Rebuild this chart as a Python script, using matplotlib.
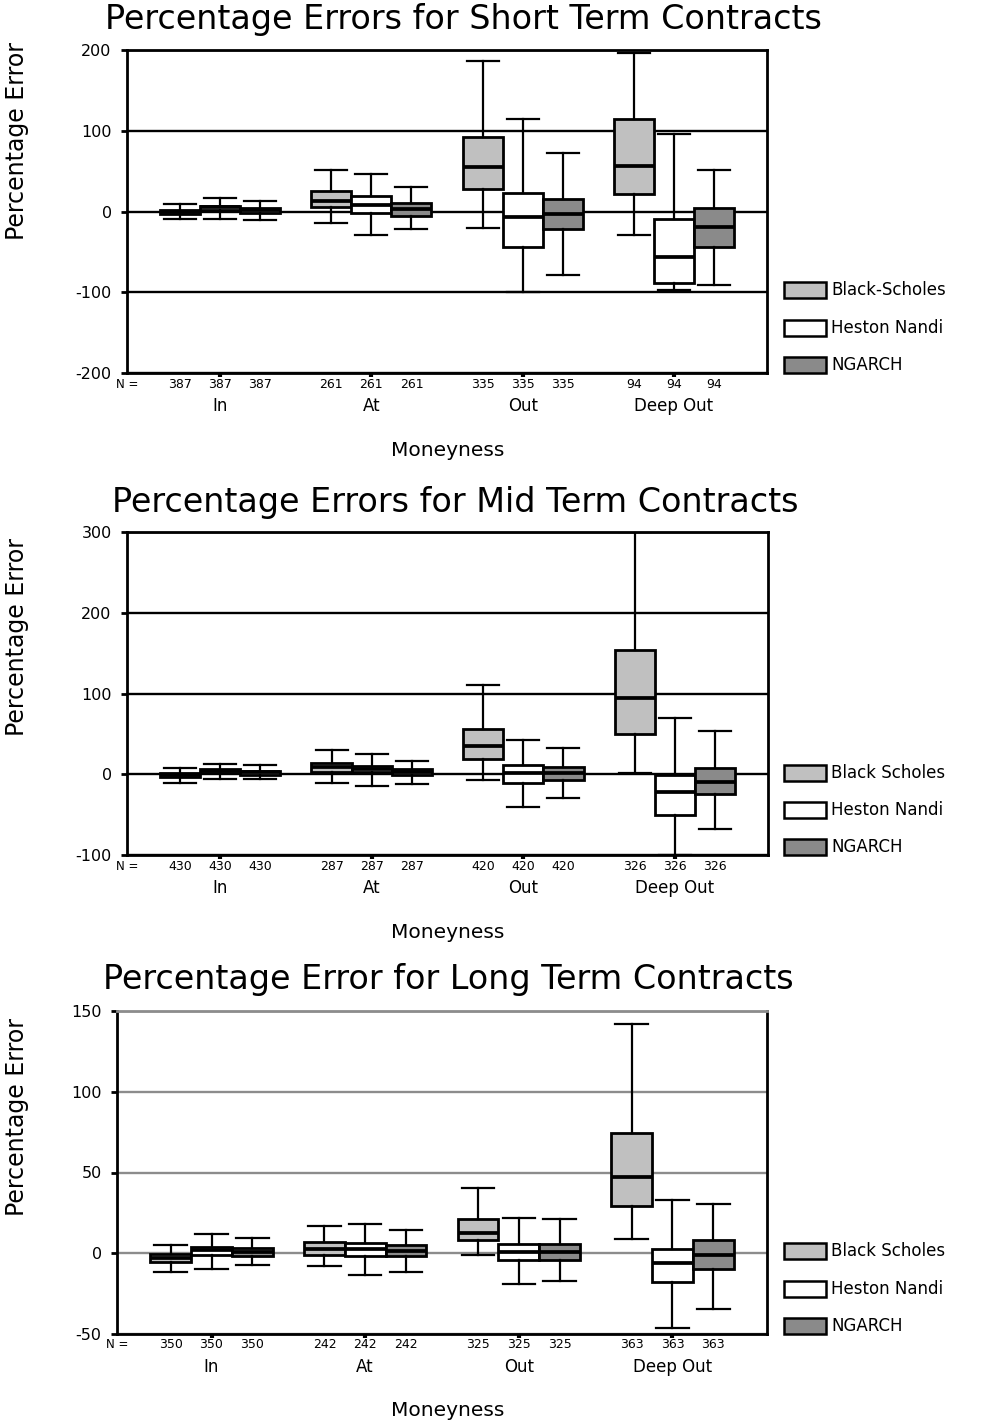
import matplotlib
matplotlib.use("Agg")
import matplotlib.pyplot as plt
from matplotlib.patches import Rectangle

# ---------------- data ----------------
categories = ["In", "At", "Out", "Deep Out"]
models = ["Black-Scholes", "Heston Nandi", "NGARCH"]

# each entry: [lower whisker, Q1, median, Q3, upper whisker] for In, At, Out, Deep Out
short_bs = [[-9, -3, -1, 2, 9], [-14, 6, 13, 25, 51], [-20, 28, 55, 92, 186], [-29, 21.5, 56.5, 115, 196]]
short_hn = [[-9, 2, 5, 7, 17], [-29, -2, 8, 19, 46], [-100, -44, -7, 23, 115], [-97.5, -89, -56, -9, 96]]
short_ng = [[-11, -2, 2, 4, 13], [-22, -5, 3, 11, 30], [-79, -22, -3, 15, 72], [-91, -43.5, -19, 4, 52]]
short_n = [387, 261, 335, 94]

mid_bs = [[-11, -3, -1, 1, 8], [-11, 3, 9, 14, 29.5], [-7, 19, 35, 56, 110], [1, 50, 94, 154, 300]]
mid_hn = [[-6, 1, 4.5, 7, 13], [-15, 3, 7, 10, 24.5], [-40, -11, 1, 11, 42], [-100, -50, -22, -1, 70]]
mid_ng = [[-6, -0.5, 2.5, 4.5, 11], [-12, -1.5, 3, 6.5, 17], [-29, -7.4, 2, 9.5, 32], [-68, -25, -9.4, 8, 54]]
mid_n = [430, 287, 420, 326]

long_bs = [[-11.5, -5.3, -2.7, -0.6, 5], [-8.2, -0.8, 2.9, 6.8, 16.6], [-1.2, 8, 12.3, 21.3, 40.6], [9, 29.5, 47.3, 74.6, 142]]
long_hn = [[-9.8, -1.2, 2, 4, 12], [-13.5, -2, 2.7, 6.1, 18], [-19, -4.3, 0.8, 6, 22], [-46, -17.6, -6, 2.7, 33]]
long_ng = [[-7.4, -2, 1, 3.5, 9.6], [-11.5, -2, 1.6, 5, 14.3], [-17.4, -4.3, 0.8, 5.5, 21], [-34.6, -9.8, -1.2, 8.2, 30.7]]
long_n = [350, 242, 325, 363]

short_ticks = [-200, -100, 0, 100, 200]
mid_ticks = [-100, 0, 100, 200, 300]
long_ticks = [-50, 0, 50, 100, 150]

titles = ["Percentage Errors for Short Term Contracts",
          "Percentage Errors for Mid Term Contracts",
          "Percentage Error for Long Term Contracts"]
legend_labels = [["Black-Scholes", "Heston Nandi", "NGARCH"],
                 ["Black Scholes", "Heston Nandi", "NGARCH"],
                 ["Black Scholes", "Heston Nandi", "NGARCH"]]

# ---------------- style ----------------
W, H = 986, 1422
fig = plt.figure(figsize=(W / 100, H / 100), dpi=100)
plt.rcParams['font.family'] = ['DejaVu Sans']

colors = ["#c0c0c0", "#ffffff", "#8a8a8a"]
offsets = [-0.265, 0.0, 0.265]
BOXW = 0.265


def fx(px):
    return px / W


def fy(py):
    return 1 - py / H


panels = [
    dict(data=[short_bs, short_hn, short_ng], n=short_n, ticks=short_ticks,
         box=(127, 767, 50, 373), grid="black", title_xy=(463, 19), ylab_y=141,
         leg_y=[290, 328, 365]),
    dict(data=[mid_bs, mid_hn, mid_ng], n=mid_n, ticks=mid_ticks,
         box=(127, 768, 532, 855), grid="black", title_xy=(455, 502), ylab_y=637,
         leg_y=[773, 810, 847]),
    dict(data=[long_bs, long_hn, long_ng], n=long_n, ticks=long_ticks,
         box=(117, 767, 1011, 1334), grid="#8c8c8c", title_xy=(448, 979), ylab_y=1117,
         leg_y=[1251, 1289, 1326]),
]

for pi, p in enumerate(panels):
    l, r, t, b = p["box"]
    ax = fig.add_axes([fx(l), fy(b), fx(r) - fx(l), fy(t) - fy(b)])
    ticks = p["ticks"]
    ax.set_ylim(ticks[0], ticks[-1])
    ax.set_xlim(-0.615, 3.615)

    # gridlines at major ticks
    for tv in ticks:
        ax.axhline(tv, color=p["grid"], lw=1.7, zorder=0.5)

    for mi in range(3):
        stats = []
        for ci in range(4):
            lo, q1, med, q3, hi = p["data"][mi][ci]
            stats.append(dict(whislo=lo, q1=q1, med=med, q3=q3, whishi=hi, fliers=[]))
        pos = [ci + offsets[mi] for ci in range(4)]
        ax.bxp(stats, positions=pos, widths=BOXW, capwidths=BOXW * 0.8,
               patch_artist=True, showfliers=False, manage_ticks=False,
               boxprops=dict(facecolor=colors[mi], edgecolor="black", linewidth=2.0),
               medianprops=dict(color="black", linewidth=2.7),
               whiskerprops=dict(color="black", linewidth=1.6),
               capprops=dict(color="black", linewidth=1.6))

    for s in ax.spines.values():
        s.set_linewidth(2.0)
        s.set_color("black")
        s.set_zorder(3)
    if pi == 2:
        ax.spines["top"].set_color(p["grid"])

    ax.set_yticks(ticks)
    ax.set_yticklabels([str(v) for v in ticks], fontsize=11.5)
    ax.tick_params(axis="y", direction="out", length=4, width=2, pad=7)
    ax.set_xticks(range(4))
    ax.set_xticklabels([])
    ax.tick_params(axis="x", direction="out", length=3, width=3)

    # N row
    ax.annotate("N =", xy=(0, 0), xycoords="axes fraction", xytext=(0, -11 * 0.72),
                textcoords="offset points", ha="center", va="center", fontsize=8.5)
    for ci in range(4):
        for mi in range(3):
            ax.annotate(str(p["n"][ci]), xy=(ci + offsets[mi], 0),
                        xycoords=("data", "axes fraction"), xytext=(0, -11 * 0.72),
                        textcoords="offset points", ha="center", va="center", fontsize=9)
        ax.annotate(categories[ci], xy=(ci, 0), xycoords=("data", "axes fraction"),
                    xytext=(0, -33 * 0.72), textcoords="offset points",
                    ha="center", va="center", fontsize=12)

    fig.text(fx(448), fy(b + 77), "Moneyness", ha="center", va="center", fontsize=14.5)
    fig.text(fx(p["title_xy"][0]), fy(p["title_xy"][1]), titles[pi],
             ha="center", va="center", fontsize=24)
    fig.text(fx(17), fy(p["ylab_y"]), "Percentage Error", rotation=90,
             ha="center", va="center", fontsize=17)

    # legend
    for mi in range(3):
        yc = p["leg_y"][mi]
        fig.patches.append(Rectangle((fx(784), fy(yc + 8)), fx(826) - fx(784), fy(yc - 8) - fy(yc + 8),
                                     transform=fig.transFigure, facecolor=colors[mi],
                                     edgecolor="black", linewidth=1.8))
        fig.text(fx(831), fy(yc), legend_labels[pi][mi], ha="left", va="center", fontsize=12)

fig.savefig("out.png", dpi=100)
